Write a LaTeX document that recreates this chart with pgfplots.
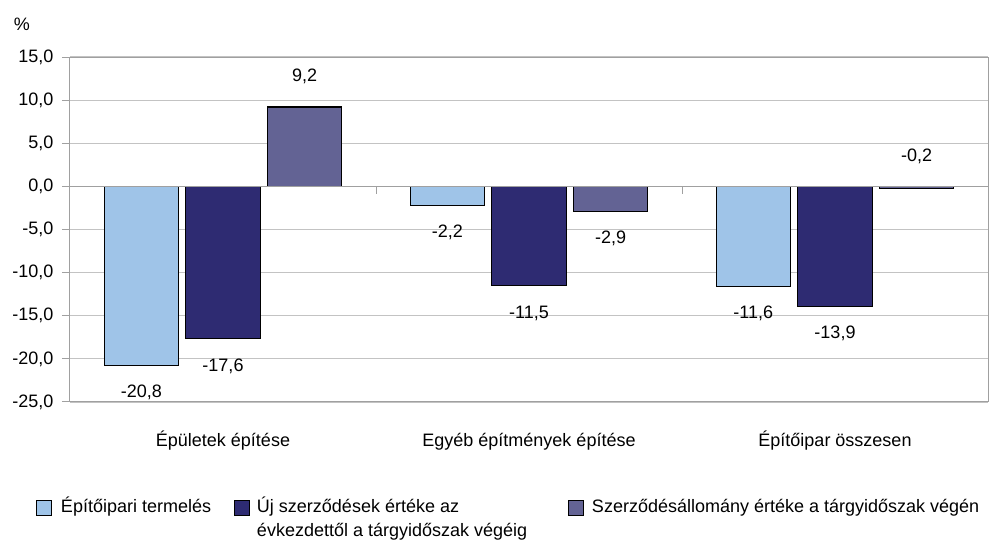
\documentclass[border=0pt]{standalone}
\usepackage{pgfplots}
\usepackage{pgfplotstable}
\pgfplotsset{compat=1.18}
\usepackage{fontspec}
\setmainfont{Liberation Sans}
\definecolor{c1}{RGB}{159,196,232}
\definecolor{c2}{RGB}{46,43,114}
\definecolor{c3}{RGB}{99,99,148}
\definecolor{gridc}{RGB}{195,195,195}
\definecolor{axisc}{RGB}{160,160,160}
\pgfplotstableread{
x y dy
0 -20.8 -31.5
1 -2.2 -32.5
2 -11.6 -32.5
}\tA
\pgfplotstableread{
x y dy
0 -17.6 -33.5
1 -11.5 -32.5
2 -13.9 -32.5
}\tB
\pgfplotstableread{
x y dy
0 9.2 25.5
1 -2.9 -32.5
2 -0.2 26.5
}\tC
\begin{document}
\begin{tikzpicture}[font=\fontsize{18}{24}\selectfont]
\useasboundingbox (-70pt,-141pt) rectangle (927pt,402pt);
\begin{axis}[
  at={(0pt,0pt)}, anchor=south west,
  scale only axis, width=918pt, height=345pt,
  xmin=-0.5, xmax=2.5, ymin=-25, ymax=15,
  ytick={-25,-20,...,15},
  xtick={0,1,2},
  xticklabels={Épületek építése, Egyéb építmények építése, Építőipar összesen},
  xtick style={draw=none},
  ytick pos=left,
  tick align=outside,
  major tick length=8pt,
  y tick style={axisc, line width=1pt},
  axis line style={axisc, line width=1pt},
  ymajorgrids,
  grid style={gridc, line width=1.2pt},
  yticklabel style={/pgf/number format/fixed, /pgf/number format/fixed zerofill, /pgf/number format/precision=1, /pgf/number format/use comma, /pgf/number format/assume math mode=true, /tikz/xshift=-5pt},
  xticklabel style={text height=16.6pt, yshift=-16pt},
  ylabel={\%},
  every axis y label/.style={at={(rel axis cs:0,1)}, anchor=center, xshift=-48pt, yshift=33pt},
  ybar,
  bar width=0.243,
  nodes near coords={\pgfmathprintnumber[fixed,fixed zerofill,precision=1,use comma,assume math mode=true]{\pgfplotspointmeta}},
  visualization depends on={\thisrow{dy} \as \dy},
  every node near coord/.append style={anchor=base, yshift=\dy pt, text=black, inner sep=0pt},
  legend columns=3,
  legend style={at={(rel axis cs:0,0)}, anchor=north west, xshift=-34pt, yshift=-98pt,
    draw=none, fill=none, inner sep=0pt, outer sep=0pt, column sep=0pt,
    nodes={inner sep=0pt, text height=0.75em, text depth=0.2em}},
  legend cell align=left,
  legend image code/.code={\draw[#1, draw=black, line width=1pt] (0pt,-6pt) rectangle (15pt,9pt);},
]
\addplot[fill=c1, draw=black, line width=1.2pt, bar shift=-0.267] table[x=x,y=y] {\tA};
\addlegendentry{\makebox[182pt][l]{\hspace{9pt}Építőipari termelés}}
\addplot[fill=c2, draw=black, line width=1.2pt, bar shift=0] table[x=x,y=y] {\tB};
\addlegendentry{\makebox[318pt][l]{\hspace{7pt}\begin{tabular}[t]{@{}l@{}}Új szerződések értéke az\\évkezdettől a tárgyidőszak végéig\end{tabular}}}
\addplot[fill=c3, draw=black, line width=1.2pt, bar shift=0.267] table[x=x,y=y] {\tC};
\addlegendentry{\makebox[410pt][l]{\hspace{8pt}Szerződésállomány értéke a tárgyidőszak végén}}
\draw[axisc, line width=1.2pt] (axis cs:-0.5,0) -- (axis cs:2.5,0);
\draw[axisc, line width=1pt] (axis cs:0.5,0) -- ([yshift=-8pt]axis cs:0.5,0);
\draw[axisc, line width=1pt] (axis cs:1.5,0) -- ([yshift=-8pt]axis cs:1.5,0);
\end{axis}
\end{tikzpicture}
\end{document}
